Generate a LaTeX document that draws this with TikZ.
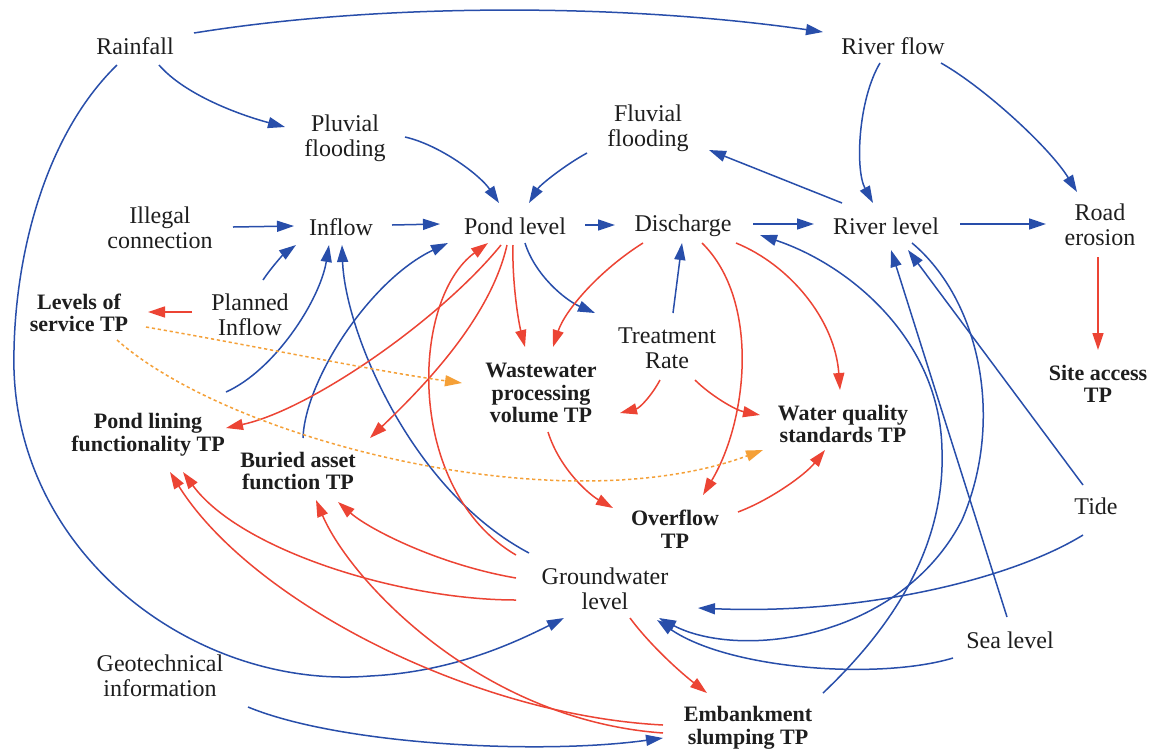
\documentclass[tikz,border=0pt]{standalone}
\usepackage{fontspec}
\setmainfont{Liberation Serif}
\usetikzlibrary{arrows.meta,calc}
\definecolor{cblue}{RGB}{40,78,170}
\definecolor{cred}{RGB}{236,68,52}
\definecolor{corange}{RGB}{245,160,55}
\definecolor{ctext}{RGB}{30,30,30}
\begin{document}
\begin{tikzpicture}[x=0.5pt,y=-0.5pt,
  lbl/.style={font=\fontsize{12}{12.5}\selectfont, align=center, inner sep=0pt, text=ctext},
  tp/.style={font=\fontsize{11}{11.3}\selectfont\bfseries, align=center, inner sep=0pt, text=ctext},
  conn/.style={line width=0.75pt},
  bl/.style={conn, draw=cblue, -{Triangle[length=8.5pt,width=5.5pt,fill=cblue]}},
  rd/.style={conn, draw=cred, -{Triangle[length=8.5pt,width=5.5pt,fill=cred]}},
  og/.style={line width=0.75pt, draw=corange, dash pattern=on 1.6pt off 1.4pt, -{Triangle[length=8.5pt,width=5.5pt,fill=corange,sep=0pt]}}
]
\useasboundingbox (0,0) rectangle (1156,751);
\fill[white] (0,0) rectangle (1156,751);

% nodes
\node[lbl] (rain) at (135,46) {Rainfall};
\node[lbl] (rflow) at (893,46) {River flow};
\node[lbl] (pluv) at (345,138) {Pluvial\\flooding};
\node[lbl] (fluv) at (648,128) {Fluvial\\flooding};
\node[lbl] (illegal) at (160,228) {Illegal\\connection};
\node[lbl] (inflow) at (341,227) {Inflow};
\node[lbl] (pond) at (515,226) {Pond level};
\node[lbl] (disch) at (683,226) {Discharge};
\node[lbl] (rlevel) at (886,226) {River level};
\node[lbl] (road) at (1100,225) {Road\\erosion};
\node[tp] (los) at (79,313) {Levels of\\service TP};
\node[lbl] (planned) at (250,315) {Planned\\Inflow};
\node[lbl] (treat) at (667,348) {Treatment\\Rate};
\node[tp] (waste) at (541,393) {Wastewater\\processing\\volume TP};
\node[tp] (site) at (1098,384) {Site access\\TP};
\node[tp] (lining) at (148,435) {Pond lining\\functionality TP};
\node[tp] (buried) at (298,471) {Buried asset\\function TP};
\node[tp] (wq) at (843,424) {Water quality\\standards TP};
\node[lbl] (tide) at (1096,506) {Tide};
\node[tp] (overflow) at (675,529) {Overflow\\TP};
\node[lbl] (gw) at (605,589) {Groundwater\\level};
\node[lbl] (sea) at (1010,640) {Sea level};
\node[lbl] (geo) at (160,676) {Geotechnical\\information};
\node[tp] (emb) at (748,728) {Embankment\\slumping TP};

% blue connectors
\draw[bl] ($(rain)+(59,-13)$) .. controls (380,3) and (620,3) .. ($(rflow)+(-70,-14)$);
\draw[bl] ($(rain)+(24,19)$) .. controls (185,95) and (240,115) .. ($(pluv)+(-60,-11)$);
\draw[bl] ($(rain)+(-18,19)$) .. controls (40,140) and (12,270) .. (14,370)
   .. controls (20,560) and (200,690) .. (370,676)
   .. controls (450,672) and (510,645) .. ($(gw)+(-41,29)$);
\draw[bl] ($(pluv)+(60,-1)$) .. controls (440,145) and (480,175) .. ($(pond)+(-16,-23)$);
\draw[bl] ($(fluv)+(-61,25)$) .. controls (565,165) and (540,185) .. ($(pond)+(14,-23)$);
\draw[bl] ($(illegal)+(73,-1)$) -- ($(inflow)+(-47,-1)$);
\draw[bl] ($(inflow)+(51,-2)$) -- ($(pond)+(-75,-2)$);
\draw[bl] ($(pond)+(70,-1)$) -- ($(disch)+(-68,-1)$);
\draw[bl] ($(disch)+(70,-2)$) -- ($(rlevel)+(-72,-2)$);
\draw[bl] ($(rlevel)+(74,-2)$) -- ($(road)+(-54,-1)$);
\draw[bl] ($(rflow)+(-13,17)$) .. controls (858,100) and (855,170) .. ($(rlevel)+(-13,-23)$);
\draw[bl] ($(rflow)+(48,17)$) .. controls (985,88) and (1050,148) .. ($(road)+(-23,-33)$);
\draw[bl] ($(rlevel)+(-44,-23)$) -- ($(fluv)+(61,22)$);
\draw[bl] ($(treat)+(6,-35)$) -- ($(disch)+(-1,17)$);
\draw[bl] ($(pond)+(10,17)$) .. controls (535,275) and (565,300) .. ($(treat)+(-72,-35)$);
\draw[bl] ($(buried)+(5,-33)$) .. controls (305,380) and (370,280) .. ($(pond)+(-67,17)$);
\draw[bl] ($(lining)+(78,-43)$) .. controls (275,370) and (320,300) .. ($(inflow)+(-12,18)$);
\draw[bl] ($(gw)+(-76,-36)$) .. controls (410,490) and (345,330) .. ($(inflow)+(1,18)$);
\draw[bl] ($(planned)+(13,-35)$) .. controls (273,265) and (285,253) .. ($(inflow)+(-45,18)$);
\draw[bl] ($(geo)+(88,31)$) .. controls (340,745) and (540,755) .. ($(emb)+(-85,10)$);
\draw[bl] ($(tide)+(-13,-21)$) -- ($(rlevel)+(22,24)$);
\draw[bl] ($(sea)+(-3,-23)$) -- ($(rlevel)+(5,24)$);
\draw[bl] ($(tide)+(-13,29)$) .. controls (1010,580) and (860,615) .. ($(gw)+(93,19)$);
\draw[bl] ($(sea)+(-57,18)$) .. controls (880,680) and (730,670) .. ($(gw)+(52,31)$);
\draw[bl] ($(rlevel)+(26,17)$) .. controls (980,300) and (1005,420) .. (962,520)
   .. controls (900,640) and (740,660) .. ($(gw)+(54,29)$);
\draw[bl] ($(emb)+(75,-35)$) .. controls (900,620) and (945,540) .. (942,450)
   .. controls (940,340) and (850,265) .. ($(disch)+(77,9)$);

% red connectors
\draw[rd] ($(pond)+(-2,19)$) .. controls (512,280) and (518,320) .. ($(waste)+(-16,-46)$);
\draw[rd] ($(disch)+(-40,17)$) .. controls (600,270) and (565,310) .. ($(waste)+(12,-46)$);
\draw[rd] ($(treat)+(-7,32)$) .. controls (652,395) and (640,408) .. ($(waste)+(79,20)$);
\draw[rd] ($(treat)+(28,32)$) .. controls (710,395) and (735,410) .. ($(wq)+(-83,-9)$);
\draw[rd] ($(disch)+(53,17)$) .. controls (790,265) and (835,320) .. ($(wq)+(-3,-34)$);
\draw[rd] ($(disch)+(19,17)$) .. controls (760,300) and (748,420) .. ($(overflow)+(28,-34)$);
\draw[rd] ($(waste)+(7,39)$) .. controls (560,470) and (590,495) .. ($(overflow)+(-62,-21)$);
\draw[rd] ($(overflow)+(63,-17)$) .. controls (770,500) and (805,475) .. ($(wq)+(-18,26)$);
\draw[rd] ($(pond)+(-14,19)$) .. controls (440,320) and (310,410) .. ($(lining)+(78,-7)$);
\draw[rd] ($(pond)+(-8,19)$) .. controls (490,320) and (420,390) .. ($(buried)+(72,-33)$);
\draw[rd] ($(gw)+(-89,-34)$) .. controls (405,490) and (410,300) .. ($(pond)+(-27,17)$);
\draw[rd] ($(gw)+(-89,-11)$) .. controls (440,565) and (370,530) .. ($(buried)+(40,31)$);
\draw[rd] ($(gw)+(-89,11)$) .. controls (400,600) and (240,550) .. ($(lining)+(35,37)$);
\draw[rd] ($(emb)+(-85,-3)$) .. controls (470,715) and (250,600) .. ($(lining)+(22,37)$);
\draw[rd] ($(emb)+(-85,5)$) .. controls (480,720) and (350,580) .. ($(buried)+(18,29)$);
\draw[rd] ($(gw)+(25,29)$) .. controls (650,645) and (680,672) .. ($(emb)+(-41,-35)$);
\draw[rd] ($(planned)+(-58,-3)$) -- ($(los)+(69,-1)$);
\draw[rd] ($(road)+(-2,32)$) -- ($(site)+(0,-34)$);

% orange dotted connectors
\draw[og] ($(los)+(67,14)$) .. controls (250,345) and (380,372) .. ($(waste)+(-79,-10)$);
\draw[og] ($(los)+(38,27)$) .. controls (230,440) and (560,525) .. ($(wq)+(-80,26)$);
\end{tikzpicture}
\end{document}
